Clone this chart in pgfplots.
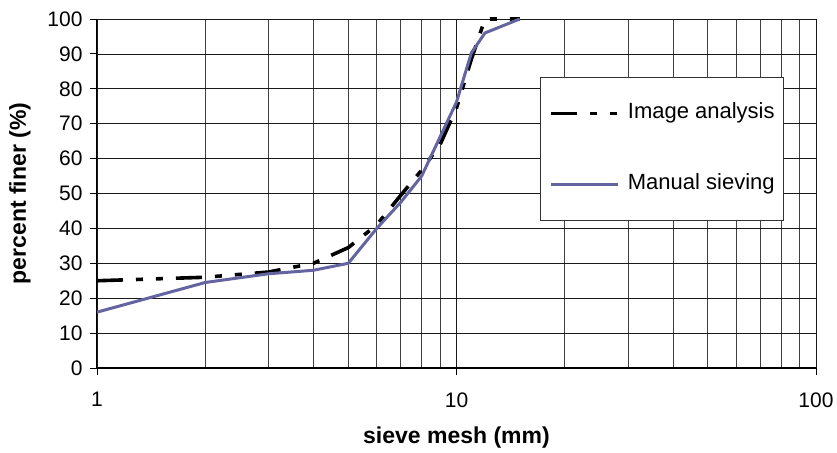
\documentclass[border=0pt]{standalone}
\usepackage{pgfplots}
\pgfplotsset{compat=1.18}
\usepackage{fontspec}
\setmainfont{Liberation Sans}
\definecolor{manual}{RGB}{100,100,160}
\begin{document}
\begin{tikzpicture}
\begin{axis}[
  name=ax, at={(97pt,84pt)}, anchor=south west,
  scale only axis, width=719pt, height=349pt,
  xmode=log, xmin=1, xmax=100, ymin=0, ymax=100,
  ytick={0,10,...,100},
  xtick={1,10,100}, xticklabels={1,10,100},
  minor xtick={2,3,4,5,6,7,8,9,20,30,40,50,60,70,80,90},
  grid=both,
  major grid style={black!90, line width=0.7pt},
  minor grid style={black!75, line width=0.7pt},
  axis lines=left,
  axis line style={-},
  x axis line style={line width=1.8pt},
  y axis line style={line width=1.0pt},
  tick style={black, line width=0.8pt},
  major tick length=7pt, minor tick length=0pt,
  tick align=outside,
  /pgf/number format/assume math mode=true,
  ticklabel style={font=\fontsize{21}{24}\selectfont},
  xticklabel style={yshift=-14pt},
  yticklabel style={xshift=-4pt},
  xlabel={\bfseries sieve mesh (mm)},
  ylabel={\bfseries percent finer (\%)},
  label style={font=\fontsize{23}{26}\selectfont},
  xlabel style={at={(rel axis cs:0.5,0)}, anchor=center, yshift=-70pt},
  ylabel style={at={(rel axis cs:0,0.5)}, anchor=center, yshift=77pt},
  clip=false,
  legend style={at={(rel axis cs:0.616,0.834)}, anchor=north west,
    draw=black!80, line width=0.8pt, fill=white,
    font=\fontsize{22}{25}\selectfont,
    inner xsep=9pt, inner ysep=26pt, row sep=51pt,
    nodes={inner sep=0pt, text height=15pt, text depth=5pt},
    /tikz/every odd column/.append style={column sep=8pt}},
  legend cell align=left,
  legend image code/.code={\draw[#1] (0pt,0pt) -- (67pt,0pt);},
]
\addplot[black, line width=3.6pt, dash pattern=on 26pt off 13pt on 7pt off 13pt on 7pt off 13pt]
coordinates {(1,25) (2,26) (3,27.5) (4,30) (5,34.5) (6,41) (7,49.5) (8,56.7) (9,64) (10,74.5) (11,88.5) (12,100) (15,100)};
\addlegendentry{Image analysis}
\addplot[manual, line width=3pt]
coordinates {(1,16) (2,24.5) (3,27) (4,28) (5,30) (6,40) (7,47.5) (8,55) (10,76.2) (11,90.3) (12,96) (15,100)};
\addlegendentry{Manual sieving}
\end{axis}
\pgfresetboundingbox
\path (0,0) rectangle (837pt,452pt);
\end{tikzpicture}
\end{document}
